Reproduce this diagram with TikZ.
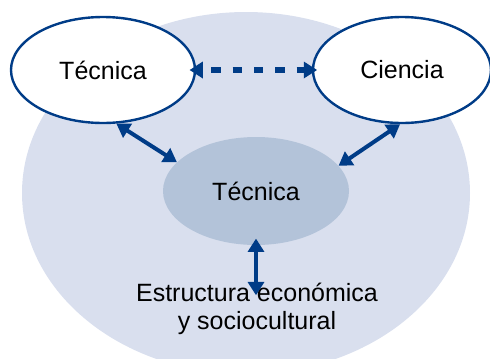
\documentclass[tikz,border=0pt]{standalone}
\usepackage{fontspec}
\setmainfont{Liberation Sans}
\usetikzlibrary{shapes,arrows.meta,positioning}
\definecolor{azul}{HTML}{003C87}
\definecolor{fondo}{HTML}{D9DFEE}
\definecolor{nucleo}{HTML}{B3C3D9}

\begin{document}
\begin{tikzpicture}[x=0.75pt,y=-0.75pt]
   \tikzset{fondo node/.style={ellipse, fill=fondo, inner sep=0pt,
   		minimum width=336pt, minimum height=271.5pt}, }
   \tikzset{idea node/.style={ellipse, draw=azul, line width=1.8pt, fill=white,
   		text centered, inner sep=0pt, minimum height=79.5pt,
   		font=\fontsize{18.75}{20.5}\selectfont}, }
   \tikzset{centro node/.style={ellipse, fill=nucleo, inner sep=0pt,
   		minimum width=139.5pt, minimum height=81pt,
   		font=\fontsize{18.75}{20.5}\selectfont}, }
   \tikzset{texto node/.style={align=center, inner sep=0pt,
   		font=\fontsize{18.75}{20.5}\selectfont}, }
   \tikzset{linea/.style={{Triangle[length=10pt,width=12pt]}-{Triangle[length=10pt,width=12pt]},
   		draw=azul, line width=3pt},}
   \tikzset{linea punteada/.style={linea, line width=4.2pt,
   		dash pattern=on 7pt off 9pt, dash phase=-7pt},}

\useasboundingbox (0,0) rectangle (490,358);
\node[fondo node] (1) at (246,193) {};
\node[idea node, minimum width=138pt] (2) at (103,70) {Técnica};
\node[idea node, minimum width=133.5pt] (3) at (402,70) {Ciencia};
\node[centro node] (4) at (256,191) {Técnica};
\node[texto node] (5) at (257,309) {Estructura económica\\y sociocultural};
% flechas
\draw[linea punteada, shorten <=-5pt, shorten >=-4pt] (2.east) -- (3.west);
\draw[linea] (2.-76) -- (4.160);
\draw[linea] (3.-92) -- (4.17);
\draw[linea] ([yshift=5pt]4.south) -- ([yshift=-9pt]4.south |- 5.north);
%
\end{tikzpicture}
\end{document}
